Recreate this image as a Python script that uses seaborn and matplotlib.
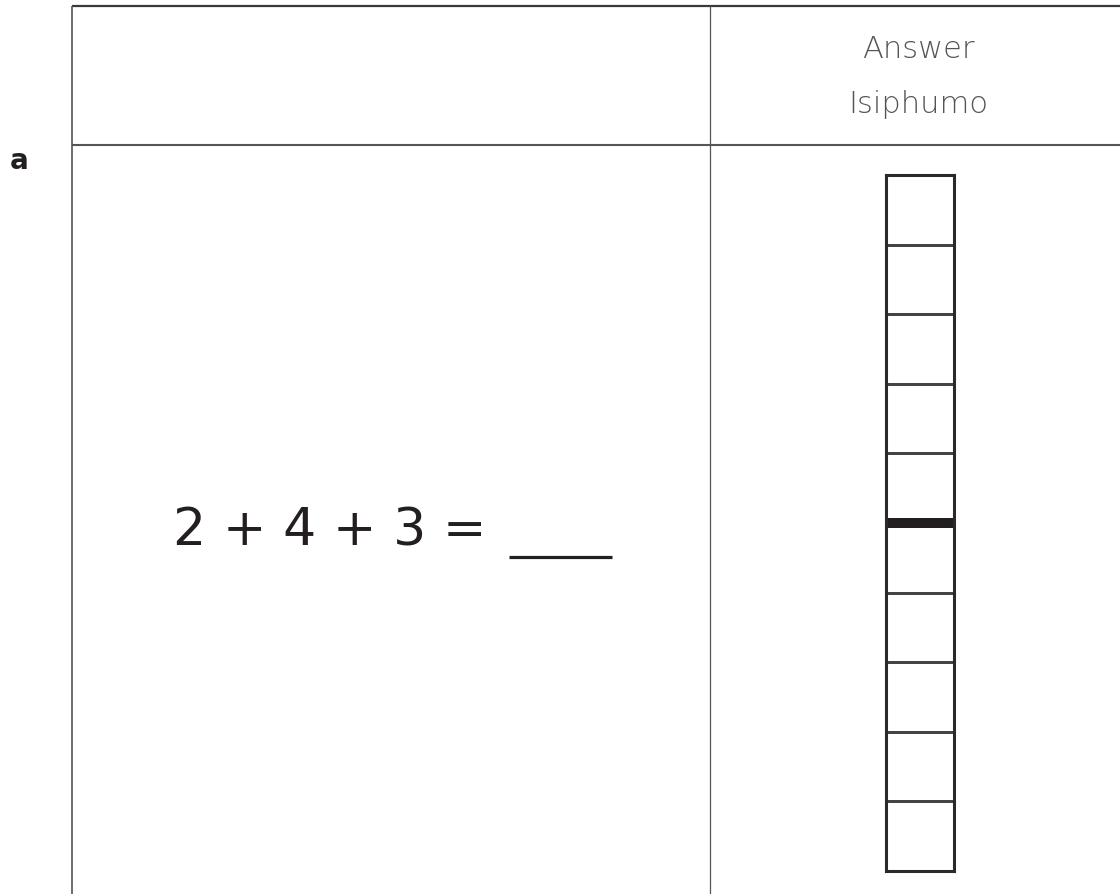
import numpy as np
import pandas as pd
import matplotlib
matplotlib.use("Agg")
import matplotlib.pyplot as plt
import seaborn as sns

# worksheet content
item_label = "a"
header_en = "Answer"
header_xh = "Isiphumo"
addends = [2, 4, 3]
strip_cells = 10      # boxes in the answer strip
strip_marker = 5      # thick line after the 5th box

W, H = 1120, 894

sns.set_theme(style="white")
plt.rcParams["font.family"] = ["DejaVu Sans"]

fig = plt.figure(figsize=(W / 100, H / 100), dpi=100)
ax = fig.add_axes([0, 0, 1, 1])
ax.set_xlim(0, W)
ax.set_ylim(H, 0)
ax.axis("off")

# table grid
ax.plot([72, W], [6, 6], color="#3a3a3a", lw=1.6, solid_capstyle="butt")
ax.plot([72, 72], [6, H], color="#555555", lw=1.2, solid_capstyle="butt")
ax.plot([710, 710], [6, H], color="#555555", lw=0.9, solid_capstyle="butt")
ax.plot([72, W], [145, 145], color="#555555", lw=1.5, solid_capstyle="butt")

# header and item label
ax.text(918, 58, header_en, ha="center", va="baseline", fontsize=22,
        color="#555555", fontweight="light")
ax.text(918, 113, header_xh, ha="center", va="baseline", fontsize=22,
        color="#555555", fontweight="light")
ax.text(10, 169, item_label, ha="left", va="baseline", fontsize=20,
        color="#231f20", fontweight="bold")

# the sum and the blank for the answer
equation = " + ".join(str(v) for v in addends) + " ="
ax.text(173, 545, equation, ha="left", va="baseline", fontsize=37.5,
        color="#231f20")
ax.plot([509, 612], [557, 557], color="#231f20", lw=2.3, solid_capstyle="butt")

# answer strip: ten boxes drawn as a one-column heatmap
strip = pd.DataFrame(np.zeros((strip_cells, 1)))
sax = fig.add_axes([886 / W, 1 - 871 / H, 68 / W, 696 / H])
sns.heatmap(strip, ax=sax, cmap=["white"], cbar=False, linewidths=0.9,
            linecolor="#444444", xticklabels=False, yticklabels=False)
for s in sax.spines.values():
    s.set_visible(True)
    s.set_color("#2a2a2a")
    s.set_linewidth(2.2)
sax.axhline(strip_marker, color="#231f20", lw=7.2)

fig.savefig("out.png", dpi=100)
